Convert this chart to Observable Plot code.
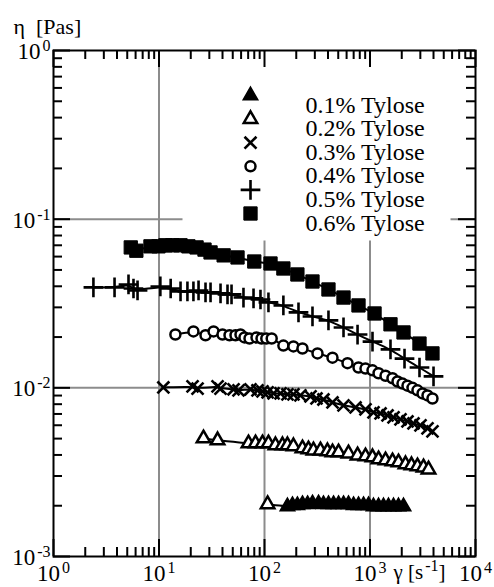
<!DOCTYPE html>
<html>
<head>
<meta charset="utf-8">
<script src="https://cdn.jsdelivr.net/npm/d3@7"></script>
<script src="https://cdn.jsdelivr.net/npm/@observablehq/plot@0.6"></script>
<style>
  html, body { margin: 0; padding: 0; background: #fff; }
  svg { display: block; }
</style>
</head>
<body>
<div id="chart"></div>
<script>
// ---------------- data (shear rate [1/s], viscosity [Pas]) ----------------
const rate01 = [107, 165, 184, 205, 229, 256, 285, 325, 362, 404, 451, 503, 561, 625, 698, 778, 868, 968, 1079, 1205, 1343, 1497, 1671, 1862, 2078];
const eta01  = [0.00204, 0.00198, 0.00201, 0.00201, 0.00204, 0.00204, 0.00206, 0.00206, 0.00204, 0.00204, 0.00204, 0.00204, 0.00204, 0.00204, 0.00201, 0.00201, 0.00201, 0.00201, 0.00198, 0.00198, 0.00198, 0.00198, 0.00198, 0.00198, 0.00198];

const rate02 = [26.4, 35.9, 70.5, 82.2, 95.7, 109, 127, 148, 165, 188, 229, 261, 291, 339, 395, 441, 503, 625, 762, 906, 1056, 1205, 1403, 1634, 1862, 2170, 2473, 2818, 3214, 3586];
const eta02  = [0.00501, 0.00488, 0.00468, 0.00468, 0.00468, 0.00468, 0.00456, 0.00456, 0.00456, 0.0045, 0.00437, 0.00431, 0.00425, 0.00425, 0.0042, 0.00414, 0.00414, 0.00408, 0.00397, 0.00392, 0.00387, 0.00376, 0.00371, 0.00366, 0.00361, 0.00352, 0.00347, 0.00342, 0.00337, 0.00328];

const rate03 = [11.0, 20.8, 23.2, 35.9, 38.3, 50.9, 56.7, 73.7, 85.8, 95.7, 107, 122, 142, 165, 188, 219, 273, 311, 362, 441, 561, 729, 906, 1079, 1259, 1466, 1671, 1945, 2266, 2584, 3010, 3508, 3910];
const eta03  = [0.01005, 0.0102, 0.0099, 0.0102, 0.0099, 0.0098, 0.00966, 0.0098, 0.00966, 0.00953, 0.0094, 0.00927, 0.00927, 0.00914, 0.00914, 0.00902, 0.0089, 0.00865, 0.00853, 0.00819, 0.00786, 0.00765, 0.00745, 0.00715, 0.00705, 0.00686, 0.00668, 0.0065, 0.00632, 0.00615, 0.00599, 0.00575, 0.00552];

const rate04 = [14.3, 21.2, 27.6, 32.9, 40.0, 46.6, 53.1, 59.2, 64.6, 72.1, 84.0, 93.7, 104, 117, 151, 188, 229, 318, 441, 612, 778, 906, 1056, 1205, 1403, 1634, 1823, 2032, 2266, 2529, 2818, 3148, 3508, 3910];
const eta04  = [0.0207, 0.0216, 0.0205, 0.0216, 0.0207, 0.0205, 0.0205, 0.0207, 0.0199, 0.0196, 0.0199, 0.0196, 0.0196, 0.0196, 0.0178, 0.0176, 0.0171, 0.016, 0.0151, 0.014, 0.0132, 0.013, 0.0127, 0.0122, 0.0118, 0.0114, 0.0109, 0.0106, 0.0103, 0.0100, 0.00966, 0.00927, 0.00902, 0.00865];

const rate05 = [2.39, 3.79, 5.14, 5.73, 6.26, 10.3, 12.9, 16.0, 18.6, 21.2, 23.7, 27.6, 30.8, 38.3, 44.6, 48.7, 63.2, 78.7, 91.6, 109, 151, 210, 285, 404, 561, 762, 1056, 1564, 2124, 2945, 4000];
const eta05  = [0.0394, 0.0394, 0.041, 0.0388, 0.0378, 0.0399, 0.0388, 0.0373, 0.0373, 0.0373, 0.0378, 0.0368, 0.0368, 0.0363, 0.0358, 0.0358, 0.0343, 0.0339, 0.0334, 0.0321, 0.0308, 0.028, 0.0265, 0.0251, 0.0228, 0.0207, 0.0188, 0.0169, 0.0149, 0.0132, 0.0117];

const rate06 = [5.4, 6.1, 8.3, 9.9, 11.5, 13.4, 16.0, 19.0, 22.7, 27.0, 30.8, 41, 55.5, 80, 114, 151, 205, 285, 404, 561, 778, 1104, 1564, 2078, 2945, 3910];
const eta06  = [0.068, 0.065, 0.069, 0.069, 0.070, 0.070, 0.070, 0.069, 0.068, 0.066, 0.0635, 0.061, 0.0593, 0.0561, 0.0546, 0.051, 0.047, 0.0427, 0.0383, 0.0343, 0.0308, 0.0276, 0.0238, 0.0213, 0.0183, 0.016];

const seriesLabels = ["0.1% Tylose", "0.2% Tylose", "0.3% Tylose", "0.4% Tylose", "0.5% Tylose", "0.6% Tylose"];

const xMajor = [1, 10, 100, 1000, 10000];
const xTickLabels = ["10^{0}", "10^{1}", "10^{2}", "10^{3}", "10^{4}"];
const yMajor = [0.001, 0.01, 0.1, 1];
const yTickLabels = ["10^{-3}", "10^{-2}", "10^{-1}", "10^{0}"];
const xGrid = [10, 100, 1000];
const yGrid = [0.01, 0.1];
const xTitle = "γ [s^{-1}]";
const yTitle = "η\u00a0\u00a0[Pas]";

// ---------------- layout ----------------
const W = 494, H = 587;
const mL = 53, mR = 19, mT = 50, mB = 31;
const fw = W - mL - mR, fh = H - mT - mB;
const FONT = "'Liberation Serif', 'Times New Roman', serif";

const xMinor = d3.range(0, 4).flatMap(e => d3.range(2, 10).map(k => k * Math.pow(10, e)));
const yMinor = d3.range(-3, 0).flatMap(e => d3.range(2, 10).map(k => k * Math.pow(10, e)));

const styles = [
  {symbol: "triangle", r: 5.4, fill: "black", stroke: "black", strokeWidth: 1.5},
  {symbol: "triangle", r: 5.0, fill: "white", stroke: "black", strokeWidth: 2.5},
  {symbol: "times",    r: 5.5, fill: "none",  stroke: "black", strokeWidth: 2.6},
  {symbol: "circle",   r: 5.0, fill: "white", stroke: "black", strokeWidth: 2.5},
  {symbol: "plus",     r: 6.4, fill: "none",  stroke: "black", strokeWidth: 2.6},
  {symbol: "square",   r: 7.5, fill: "black", stroke: "black", strokeWidth: 1}
];

const rates = [rate01, rate02, rate03, rate04, rate05, rate06];
const etas  = [eta01, eta02, eta03, eta04, eta05, eta06];
const series = rates.map((r, k) => r.map((x, i) => ({x, y: etas[k][i]})));

const marks = [];
// grid
marks.push(Plot.ruleX(xGrid, {stroke: "#8c8c8c", strokeWidth: 2}));
marks.push(Plot.ruleY(yGrid, {stroke: "#8c8c8c", strokeWidth: 2}));
// white legend box over grid
marks.push(Plot.frame({fill: "white", stroke: "none", insetLeft: 129, insetRight: 25, insetBottom: 316, insetTop: 1}));
// fit lines
series.forEach(s => marks.push(Plot.line(s, {x: "x", y: "y", curve: "basis", stroke: "black", strokeWidth: 2})));
// points
series.forEach((s, k) => {
  const st = styles[k];
  if (k === 0) {
    marks.push(Plot.dot(s.slice(0, 1), {x: "x", y: "y", ...st, fill: "white", strokeWidth: 2.5, r: 5.0}));
    marks.push(Plot.dot(s.slice(1), {x: "x", y: "y", ...st}));
  } else {
    marks.push(Plot.dot(s, {x: "x", y: "y", ...st}));
  }
});
// inward ticks on all four sides
const tk = {stroke: "black", strokeWidth: 2};
marks.push(Plot.ruleX(xMajor, {...tk, insetTop: fh - 17}));
marks.push(Plot.ruleX(xMajor, {...tk, insetBottom: fh - 17}));
marks.push(Plot.ruleX(xMinor, {...tk, insetTop: fh - 9}));
marks.push(Plot.ruleX(xMinor, {...tk, insetBottom: fh - 9}));
marks.push(Plot.ruleY(yMajor, {...tk, insetRight: fw - 17}));
marks.push(Plot.ruleY(yMajor, {...tk, insetLeft: fw - 17}));
marks.push(Plot.ruleY(yMinor, {...tk, insetRight: fw - 9}));
marks.push(Plot.ruleY(yMinor, {...tk, insetLeft: fw - 9}));
marks.push(Plot.frame({stroke: "black", strokeWidth: 2}));
// tick labels
marks.push(Plot.text(xMajor, {x: d => d, text: (d, i) => xTickLabels[i], frameAnchor: "bottom", lineAnchor: "top", dy: 8, fontSize: 23, fill: "black", textAnchor: "middle"}));
marks.push(Plot.text(yMajor, {y: d => d, text: (d, i) => yTickLabels[i], frameAnchor: "left", textAnchor: "end", dx: -3, dy: 1, fontSize: 23, fill: "black"}));
// axis titles
marks.push(Plot.text([xTitle], {frameAnchor: "bottom-left", dx: 340, dy: 8, lineAnchor: "top", textAnchor: "start", fontSize: 21, fill: "black"}));
marks.push(Plot.text([yTitle], {frameAnchor: "top-left", dx: -40, dy: -32, textAnchor: "start", fontSize: 22, fill: "black"}));
// legend
seriesLabels.forEach((lab, k) => {
  const dy = 45 + 23.6 * k;
  marks.push(Plot.dot([lab], {frameAnchor: "top-left", dx: 197, dy, ...styles[k]}));
  marks.push(Plot.text([lab], {frameAnchor: "top-left", dx: 252, dy, textAnchor: "start", fontSize: 24, fill: "black"}));
});

const chart = Plot.plot({
  width: W, height: H,
  marginLeft: mL, marginRight: mR, marginTop: mT, marginBottom: mB,
  x: {type: "log", domain: [1, 1e4], axis: null},
  y: {type: "log", domain: [1e-3, 1], axis: null},
  style: {fontFamily: FONT, background: "white", color: "black", overflow: "visible"},
  marks
});

// superscripts: turn "a^{b}c" into tspans
d3.select(chart).selectAll("text").each(function () {
  const t = this.textContent;
  if (!t.includes("^{")) return;
  const parts = t.split(/\^\{([^}]*)\}/);
  this.textContent = "";
  let raised = false;
  parts.forEach((p, i) => {
    if (p === "") return;
    const ts = document.createElementNS("http://www.w3.org/2000/svg", "tspan");
    ts.textContent = p;
    if (i % 2 === 1) {
      ts.setAttribute("font-size", "16");
      ts.setAttribute("dy", "-8");
      ts.setAttribute("dx", "2");
      raised = true;
    } else if (raised) {
      ts.setAttribute("dy", "8");
      raised = false;
    }
    this.appendChild(ts);
  });
});

document.getElementById("chart").appendChild(chart);
</script>
</body>
</html>
